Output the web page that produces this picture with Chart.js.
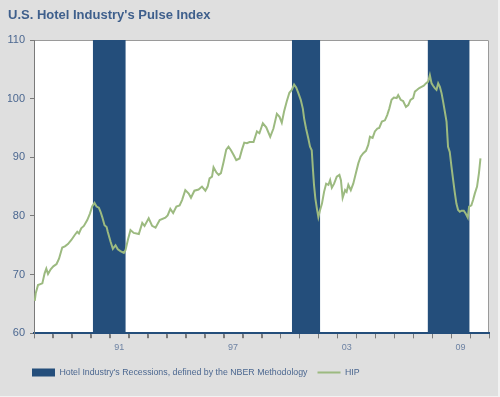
<!DOCTYPE html>
<html>
<head>
<meta charset="utf-8">
<script src="https://cdn.jsdelivr.net/npm/chart.js@4/dist/chart.umd.min.js"></script>
<style>
  html, body { margin: 0; padding: 0; background: #f2f2f2; }
  #wrap { position: absolute; left: 0; top: 0; width: 498px; height: 396px; background: #dfdfdf; }
  canvas { display: block; }
</style>
</head>
<body>
<div id="wrap"><canvas id="c" width="498" height="396"></canvas></div>
<script>
// ---- data ----
const titleText = "U.S. Hotel Industry's Pulse Index";
const recessionLabel = "Hotel Industry's Recessions, defined by the NBER Methodology";
const hipLabel = "HIP";

// recession periods (fractional years)
const recessionStart = [1990.10, 2000.60, 2007.76];
const recessionEnd   = [1991.84, 2002.10, 2009.98];
const recessionTop = 110;

// HIP index (fractional year, value)
const hipYears = [1987.04,1987.09,1987.21,1987.44,1987.56,1987.65,1987.74,1987.88,
  1988.02,1988.19,1988.32,1988.49,1988.63,1988.79,1988.97,
  1989.14,1989.28,1989.37,1989.49,1989.63,1989.81,1989.95,
  1990.07,1990.19,1990.30,1990.42,1990.51,1990.60,1990.72,1990.83,1990.89,
  1991.04,1991.16,1991.30,1991.42,1991.56,1991.74,1991.83,1991.95,
  1992.09,1992.26,1992.53,1992.71,1992.83,
  1993.05,1993.23,1993.41,1993.63,1993.93,
  1994.05,1994.19,1994.34,1994.51,1994.68,1994.81,1994.98,
  1995.16,1995.28,1995.46,1995.68,1995.86,
  1996.04,1996.16,1996.26,1996.39,1996.47,1996.62,1996.74,1996.86,
  1997.00,1997.14,1997.26,1997.39,1997.53,1997.67,1997.84,1997.97,
  1998.09,1998.23,1998.37,1998.58,1998.76,1998.89,
  1999.07,1999.25,1999.46,1999.63,1999.81,1999.95,
  2000.07,2000.19,2000.33,2000.47,2000.60,2000.72,2000.83,2000.95,
  2001.07,2001.18,2001.25,2001.35,2001.47,2001.56,2001.65,2001.71,2001.77,2001.84,2001.92,
  2002.00,2002.09,2002.19,2002.30,2002.41,2002.53,2002.62,2002.71,2002.83,2002.97,
  2003.11,2003.19,2003.28,2003.41,2003.49,2003.58,2003.71,2003.84,2003.98,
  2004.11,2004.23,2004.37,2004.51,2004.63,2004.72,2004.86,2004.98,
  2005.11,2005.21,2005.35,2005.51,2005.63,2005.74,2005.86,2005.98,
  2006.13,2006.21,2006.34,2006.47,2006.62,2006.74,2006.86,
  2007.00,2007.09,2007.21,2007.32,2007.44,2007.56,2007.67,2007.79,2007.88,2007.97,
  2008.05,2008.14,2008.23,2008.32,2008.41,2008.50,2008.58,2008.67,2008.76,2008.84,2008.93,
  2009.02,2009.11,2009.19,2009.28,2009.37,2009.46,2009.55,2009.67,2009.77,2009.88,2009.95,
  2010.07,2010.16,2010.25,2010.37,2010.47,2010.55];
const hipValues = [65.5,66.8,68.2,68.5,70.2,71.0,70.1,70.9,
  71.4,71.8,72.7,74.6,74.8,75.2,75.9,
  76.7,77.3,77.0,77.9,78.3,79.3,80.4,
  81.6,82.2,81.6,81.4,80.7,79.8,78.4,78.1,77.3,
  75.6,74.4,75.0,74.3,74.0,73.7,74.2,75.9,
  77.6,77.1,76.9,78.8,78.3,
  79.6,78.3,78.0,79.3,79.7,
  80.1,81.2,80.5,81.6,81.8,82.7,84.4,
  83.8,83.1,84.3,84.5,85.0,
  84.3,85.0,86.4,86.7,88.3,87.4,87.0,87.3,
  89.2,91.3,91.8,91.2,90.4,89.5,89.8,91.3,
  92.5,92.4,92.6,92.6,94.4,94.1,
  95.8,95.1,93.5,94.9,97.4,96.9,
  95.9,97.8,99.5,101.0,101.5,102.4,101.9,100.9,
  99.8,98.3,96.6,94.9,93.2,91.8,91.2,88.1,85.3,83.0,81.3,
  79.8,81.0,82.1,84.1,85.5,85.3,86.1,84.8,85.5,86.7,
  87.0,86.1,83.1,84.4,84.1,85.3,84.4,85.5,87.3,
  89.0,90.1,90.7,91.1,92.1,93.5,93.3,94.4,
  94.9,95.0,96.1,96.3,97.2,98.3,99.8,100.2,
  100.1,100.6,99.8,99.6,98.6,98.9,99.8,
  100.1,101.2,101.5,101.8,102.0,102.2,102.6,102.9,104.0,102.6,
  102.2,101.8,101.5,102.6,102.0,100.9,99.5,97.8,96.1,91.8,90.9,
  88.4,86.1,84.1,82.1,81.0,80.7,80.9,80.9,80.4,79.7,81.6,
  81.8,82.7,83.8,85.0,87.3,89.8];

// axis
const xMin = 1987, xMax = 2011;
const xTickYears = [1991, 1997, 2003, 2009];
const xTickLabels = ['91', '97', '03', '09'];
const yMin = 60, yMax = 110, yStep = 10;

// ---- styles ----
const NAVY = '#244e7b';
const GREEN = '#9cba80';
const TITLE_COLOR = '#3e5f8c';
const LABEL_COLOR = '#4b6790';
const XLABEL_COLOR = '#6d82a3';
const AXIS_GREY = '#7a7a7a';
const FONT = "'Liberation Sans', Arial, sans-serif";

Chart.defaults.font.family = FONT;

// ---- build datasets ----
const hipPoints = hipYears.map((x, i) => ({ x: x, y: hipValues[i] }));
const recessionPoints = [];
recessionStart.forEach((s, i) => {
  recessionPoints.push({ x: s, y: recessionTop });
  recessionPoints.push({ x: recessionEnd[i], y: recessionTop });
  recessionPoints.push({ x: recessionEnd[i], y: null });
});

const bgPlugin = {
  id: 'plotBg',
  beforeDraw(chart) {
    const { ctx, chartArea: a } = chart;
    ctx.save();
    ctx.fillStyle = '#ffffff';
    ctx.fillRect(a.left, a.top, a.right - a.left, a.bottom - a.top);
    ctx.strokeStyle = '#9a9a9a';
    ctx.lineWidth = 1;
    ctx.beginPath();
    ctx.moveTo(a.left, a.top + 0.5);
    ctx.lineTo(a.right - 0.5, a.top + 0.5);
    ctx.lineTo(a.right - 0.5, a.bottom);
    ctx.stroke();
    ctx.restore();
  },
  afterDraw(chart) {
    // yearly tick marks below the category axis, placed by the x scale
    const { ctx, chartArea: a } = chart;
    const xs = chart.scales.x;
    ctx.save();
    ctx.strokeStyle = AXIS_GREY;
    ctx.lineWidth = 1;
    ctx.beginPath();
    xs.ticks.forEach(t => {
      const px = Math.round(xs.getPixelForValue(t.value)) + 0.5;
      ctx.moveTo(px, a.bottom + 1);
      ctx.lineTo(px, a.bottom + 5);
    });
    ctx.stroke();
    ctx.restore();
  },
  afterLayout(chart) {
    if (chart.legend) chart.legend.left += 14;
  }
};

new Chart(document.getElementById('c'), {
  type: 'line',
  data: {
    datasets: [
      {
        label: recessionLabel,
        data: recessionPoints,
        fill: 'start',
        backgroundColor: NAVY,
        borderColor: NAVY,
        borderWidth: 0,
        pointRadius: 0,
        pointStyle: 'rect',
        spanGaps: false,
        order: 1
      },
      {
        label: hipLabel,
        data: hipPoints,
        fill: false,
        borderColor: GREEN,
        backgroundColor: GREEN,
        borderWidth: 2,
        pointRadius: 0,
        pointStyle: 'line',
        tension: 0,
        order: 0
      }
    ]
  },
  options: {
    responsive: false,
    animation: false,
    devicePixelRatio: 1,
    layout: { padding: { left: 8, right: 9, top: 0, bottom: 9 } },
    plugins: {
      title: {
        display: true,
        text: titleText,
        align: 'start',
        color: TITLE_COLOR,
        font: { family: FONT, size: 13, weight: 'bold', lineHeight: 16 / 13 },
        padding: { top: 7, bottom: 17 }
      },
      legend: {
        position: 'bottom',
        align: 'start',
        labels: {
          usePointStyle: true,
          pointStyleWidth: 23,
          boxHeight: 8,
          padding: 10,
          color: LABEL_COLOR,
          font: { family: FONT, size: 8.8 },
          sort: (a, b) => a.datasetIndex - b.datasetIndex
        }
      },
      tooltip: { enabled: false }
    },
    scales: {
      x: {
        type: 'linear',
        min: xMin,
        max: xMax,
        afterBuildTicks(scale) {
          const t = [];
          for (let v = xMin; v <= xMax; v += 1) t.push({ value: v });
          scale.ticks = t;
        },
        afterFit(scale) { scale.height = 25; },
        ticks: {
          autoSkip: false,
          maxRotation: 0,
          padding: 4,
          labelOffset: 9.5,
          color: XLABEL_COLOR,
          font: { family: FONT, size: 9 },
          callback(value) {
            const i = xTickYears.indexOf(Math.round(value));
            return i >= 0 ? xTickLabels[i] : '';
          }
        },
        grid: {
          drawOnChartArea: false,
          drawTicks: true,
          tickLength: 5,
          tickColor: AXIS_GREY
        },
        border: { display: true, color: NAVY, width: 2 }
      },
      y: {
        min: yMin,
        max: yMax,
        afterFit(scale) { scale.width = 26; },
        ticks: {
          stepSize: yStep,
          padding: 5,
          color: LABEL_COLOR,
          font: { family: FONT, size: 11 }
        },
        grid: {
          drawOnChartArea: false,
          drawTicks: true,
          tickLength: 4,
          tickColor: AXIS_GREY
        },
        border: { display: true, color: AXIS_GREY, width: 1 }
      }
    }
  },
  plugins: [bgPlugin]
});
</script>
</body>
</html>
